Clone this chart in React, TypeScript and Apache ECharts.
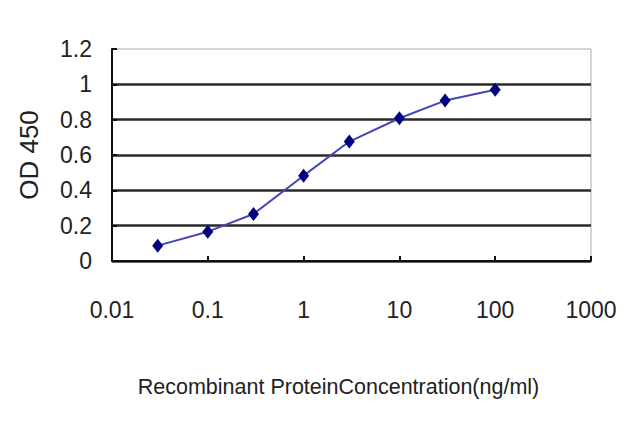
import React, { useEffect, useRef } from "react";
import * as echarts from "echarts";

const concentrations = [0.03, 0.1, 0.3, 1, 3, 10, 30, 100];
const od450 = [0.087, 0.166, 0.266, 0.483, 0.676, 0.808, 0.908, 0.969];
const yTicks = { min: 0, max: 1.2, interval: 0.2 };
const xRange = { min: 0.01, max: 1000 };
const xTitle = "Recombinant ProteinConcentration(ng/ml)";
const yTitle = "OD 450";

export default function App() {
  const ref = useRef<HTMLDivElement>(null);
  useEffect(() => {
    const chart = echarts.init(ref.current!, null, { renderer: "svg" });
    const font = "Liberation Sans, Arial, sans-serif";
    chart.setOption({
      animation: false,
      backgroundColor: "#fff",
      grid: {
        left: 112,
        right: 49,
        top: 49,
        bottom: 166,
        show: true,
        borderColor: "#aaa",
        borderWidth: 1,
      },
      xAxis: {
        type: "log",
        logBase: 10,
        min: xRange.min,
        max: xRange.max,
        name: xTitle,
        nameLocation: "middle",
        nameGap: 115,
        nameTextStyle: { fontFamily: font, fontSize: 21.5, color: "#222", padding: [0, 26, 0, 0] },
        axisLine: { lineStyle: { color: "#111", width: 2 } },
        axisTick: { inside: true, length: 5, lineStyle: { color: "#111", width: 2 } },
        axisLabel: {
          fontFamily: font,
          fontSize: 23,
          color: "#222",
          margin: 37,
          formatter: (v: number) => String(Number(v.toPrecision(6))),
        },
        splitLine: { show: false },
        minorTick: { show: false },
      },
      yAxis: {
        type: "value",
        min: yTicks.min,
        max: yTicks.max,
        interval: yTicks.interval,
        name: yTitle,
        nameLocation: "middle",
        nameGap: 70,
        nameRotate: 90,
        nameTextStyle: { fontFamily: font, fontSize: 26, color: "#222" },
        axisLine: { show: true, lineStyle: { color: "#111", width: 2 } },
        axisTick: { show: true, inside: true, length: 5, lineStyle: { color: "#111", width: 2 } },
        axisLabel: {
          fontFamily: font,
          fontSize: 23,
          color: "#222",
          margin: 20,
          formatter: (v: number) => String(Number(v.toPrecision(6))),
        },
        splitLine: {
          show: true,
          showMaxLine: false,
          lineStyle: { color: "#2a2a2a", width: 2.5 },
        },
      },
      series: [
        {
          type: "line",
          data: concentrations.map((c, i) => [c, od450[i]]),
          symbol: "diamond",
          symbolSize: [11, 14],
          itemStyle: { color: "#000080" },
          lineStyle: { color: "#4646b4", width: 2 },
        },
      ],
    });
    return () => chart.dispose();
  }, []);
  return <div ref={ref} style={{ width: 640, height: 427, position: "absolute", left: 0, top: 0 }} />;
}
